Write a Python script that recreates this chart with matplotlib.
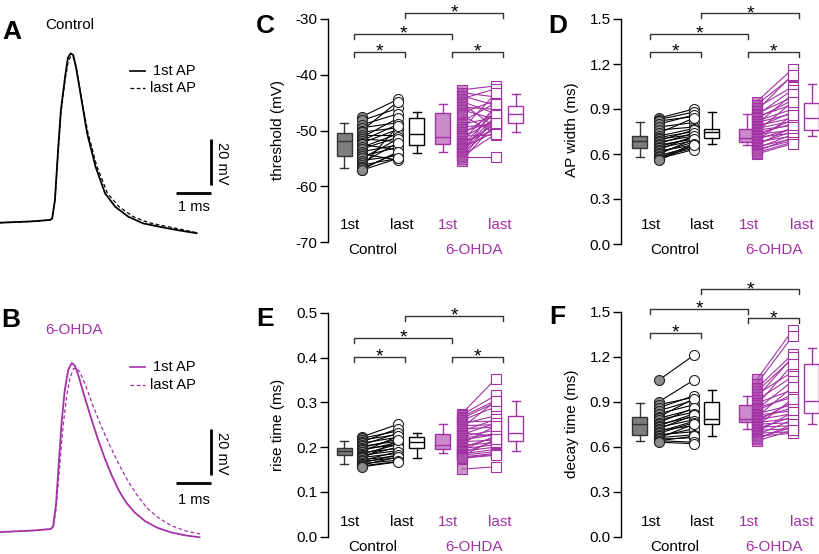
import matplotlib
matplotlib.use('Agg')
import matplotlib.pyplot as plt
from matplotlib.lines import Line2D
from matplotlib.transforms import blended_transform_factory

plt.rcParams['font.family'] = ['Liberation Sans', 'DejaVu Sans']
plt.rcParams['axes.unicode_minus'] = False

MAG = '#a332a4'
MAG_LIGHT = '#c98bc9'
GRAY_BOX = '#7d7d7d'
GRAY_PT = '#8c8c8c'

# ---- AP traces (time in ms, voltage in mV) ----
a_first_t = [0, 0.49, 0.94, 1.43, 1.49, 1.57, 1.66, 1.74, 1.86, 1.94, 2.02, 2.09, 2.17,
             2.33, 2.49, 2.73, 3.0, 3.29, 3.67, 4.09, 4.57, 5.05, 5.62]
a_first_v = [-60, -59.7, -59.4, -58.8, -58.2, -50.0, -28.1, -10.6, 3.9, 12.2, 14.1, 13.4, 8.3,
             -6.3, -20.9, -35.5, -47.1, -53.0, -57.4, -60.3, -61.8, -63.2, -64.6]
a_last_t = [0, 0.49, 0.94, 1.43, 1.49, 1.57, 1.66, 1.74, 1.86, 1.95, 2.03, 2.10, 2.18,
            2.34, 2.51, 2.76, 3.07, 3.40, 3.81, 4.25, 4.75, 5.2, 5.65]
a_last_v = [-60, -59.7, -59.4, -58.8, -58.2, -50.5, -29.0, -12.0, 2.5, 10.8, 12.9, 12.3, 7.5,
            -6.5, -20.5, -35.0, -47.1, -53.0, -57.4, -60.0, -61.6, -63.0, -64.5]

b_first_t = [0, 0.5, 1.0, 1.45, 1.52, 1.6, 1.68, 1.76, 1.85, 1.95, 2.05, 2.14, 2.25, 2.4,
             2.6, 2.8, 3.0, 3.2, 3.4, 3.6, 3.85, 4.15, 4.5, 4.9, 5.3, 5.7]
b_first_v = [-60, -59.7, -59.3, -58.7, -57.5, -48, -30, -12, 2, 11, 14, 12.8, 8, 0,
             -10, -19.5, -28, -35.5, -42, -47, -51.5, -55.3, -58.2, -60.2, -61.5, -62.3]
b_last_t = [0, 0.5, 1.0, 1.45, 1.52, 1.6, 1.7, 1.8, 1.9, 2.0, 2.1, 2.18, 2.28, 2.45,
            2.65, 2.9, 3.15, 3.4, 3.65, 3.9, 4.2, 4.5, 4.9, 5.3, 5.75]
b_last_v = [-60, -59.7, -59.3, -58.7, -57.8, -50, -32, -14, -1, 7.5, 11.5, 11.8, 10, 4,
            -4.5, -14, -22.5, -30.5, -37.5, -43.5, -49.5, -53.5, -57.3, -59.5, -61]

# ---- paired data: threshold (mV) ----
thr_ctrl_first = [-47.5, -48.2, -49.0, -49.5, -50.0, -50.3, -50.8, -51.2, -51.5, -51.8, -52.2, -52.5, -53.0,
                  -53.3, -53.8, -54.2, -54.6, -55.0, -55.4, -55.8, -56.2, -56.5, -56.8, -57.0, -57.1]
thr_ctrl_last = [-44.4, -46.0, -47.0, -48.6, -44.8, -49.5, -50.8, -47.8, -52.0, -48.9, -49.8, -53.5, -50.6,
                 -51.2, -52.6, -55.3, -53.0, -51.5, -54.5, -52.2, -55.0, -49.2, -54.0, -53.8, -55.0]
thr_ohda_first = [-42.7, -43.2, -43.8, -44.3, -44.8, -45.2, -45.8, -46.3, -46.8, -47.3, -48.4, -48.9, -49.3,
                  -49.8, -50.2, -50.6, -51.0, -51.4, -51.8, -52.2, -52.5, -52.8, -53.1, -53.4, -53.7, -54.0,
                  -54.3, -54.6, -54.8, -55.1, -55.4]
thr_ohda_last = [-42.0, -44.0, -45.5, -42.5, -47.0, -49.5, -46.2, -48.0, -44.6, -50.5, -45.0, -47.6, -49.0,
                 -43.3, -48.4, -46.8, -50.8, -47.9, -45.8, -49.8, -48.8, -46.5, -50.2, -47.4, -48.2, -49.2,
                 -45.3, -50.6, -54.8, -47.2, -48.6]
# box stats: whislo, q1, med, q3, whishi
thr_boxes = [[-56.8, -54.6, -51.8, -50.5, -48.6], [-54.1, -52.6, -50.6, -47.7, -46.6],
             [-53.8, -52.4, -51.1, -46.9, -45.2], [-50.3, -48.7, -47.1, -45.6, -43.5]]

# ---- AP width (ms) ----
wid_ctrl_first = [0.84, 0.83, 0.82, 0.80, 0.78, 0.76, 0.74, 0.72, 0.71, 0.70, 0.69, 0.68, 0.67,
                  0.66, 0.65, 0.64, 0.63, 0.62, 0.61, 0.60, 0.59, 0.58, 0.57, 0.57, 0.56]
wid_ctrl_last = [0.90, 0.88, 0.85, 0.86, 0.81, 0.78, 0.84, 0.77, 0.75, 0.73, 0.76, 0.72, 0.74,
                 0.70, 0.71, 0.69, 0.72, 0.66, 0.68, 0.70, 0.65, 0.64, 0.67, 0.63, 0.66]
wid_ohda_first = [0.95, 0.93, 0.91, 0.89, 0.87, 0.86, 0.85, 0.84, 0.82, 0.81, 0.80, 0.79, 0.78,
                  0.77, 0.76, 0.75, 0.74, 0.73, 0.72, 0.71, 0.70, 0.69, 0.68, 0.67, 0.66, 0.65,
                  0.64, 0.63, 0.62, 0.61, 0.60]
wid_ohda_last = [1.17, 1.12, 1.05, 1.13, 0.98, 1.03, 0.93, 0.96, 0.90, 0.87, 1.00, 0.84, 0.88,
                 0.82, 0.79, 0.95, 0.80, 0.76, 0.83, 0.74, 0.77, 0.86, 0.72, 0.75, 0.78, 0.70,
                 0.73, 0.69, 0.71, 0.68, 0.67]
wid_boxes = [[0.58, 0.64, 0.69, 0.72, 0.81], [0.67, 0.71, 0.75, 0.77, 0.88],
             [0.66, 0.68, 0.71, 0.77, 0.865], [0.72, 0.76, 0.84, 0.94, 1.065]]

# ---- rise time (ms) ----
rise_ctrl_first = [0.223, 0.220, 0.216, 0.212, 0.209, 0.205, 0.202, 0.199, 0.196, 0.193, 0.190, 0.188,
                   0.185, 0.182, 0.180, 0.177, 0.175, 0.172, 0.170, 0.168, 0.165, 0.163, 0.160, 0.158, 0.156]
rise_ctrl_last = [0.251, 0.236, 0.228, 0.241, 0.222, 0.231, 0.213, 0.218, 0.205, 0.210, 0.224, 0.197,
                  0.206, 0.192, 0.200, 0.186, 0.215, 0.180, 0.190, 0.176, 0.183, 0.171, 0.178, 0.168, 0.167]
rise_ohda_first = [0.275, 0.272, 0.268, 0.264, 0.260, 0.256, 0.252, 0.248, 0.244, 0.240, 0.236, 0.232,
                   0.228, 0.224, 0.220, 0.216, 0.212, 0.208, 0.204, 0.200, 0.197, 0.194, 0.191, 0.188,
                   0.185, 0.182, 0.180, 0.178, 0.176, 0.175, 0.151]
rise_ohda_last = [0.353, 0.316, 0.304, 0.300, 0.290, 0.258, 0.270, 0.250, 0.303, 0.245, 0.262, 0.224,
                  0.254, 0.238, 0.230, 0.228, 0.216, 0.248, 0.210, 0.222, 0.205, 0.225, 0.200, 0.213,
                  0.195, 0.190, 0.218, 0.186, 0.184, 0.182, 0.156]
rise_boxes = [[0.162, 0.182, 0.191, 0.197, 0.214], [0.175, 0.199, 0.211, 0.222, 0.231],
              [0.1875, 0.196, 0.205, 0.229, 0.251], [0.191, 0.214, 0.231, 0.269, 0.304]]

# ---- decay time (ms) ----
dec_ctrl_first = [1.045, 0.90, 0.88, 0.86, 0.84, 0.82, 0.80, 0.79, 0.78, 0.76, 0.75, 0.74, 0.73,
                  0.72, 0.71, 0.70, 0.69, 0.68, 0.67, 0.66, 0.66, 0.65, 0.64, 0.64, 0.63]
dec_ctrl_last = [1.21, 1.045, 0.93, 0.94, 0.91, 0.88, 0.92, 0.85, 0.83, 0.86, 0.80, 0.82, 0.78,
                 0.81, 0.74, 0.77, 0.76, 0.70, 0.72, 0.68, 0.75, 0.66, 0.67, 0.63, 0.62]
dec_ohda_first = [1.05, 1.02, 0.99, 0.97, 0.95, 0.93, 0.91, 0.89, 0.88, 0.86, 0.85, 0.84, 0.82,
                  0.81, 0.80, 0.79, 0.78, 0.77, 0.76, 0.75, 0.74, 0.73, 0.72, 0.71, 0.70, 0.69,
                  0.68, 0.67, 0.66, 0.65, 0.64]
dec_ohda_last = [1.38, 1.34, 1.22, 1.19, 1.10, 1.20, 1.07, 0.98, 1.15, 0.93, 1.04, 0.95, 0.88,
                 0.84, 1.00, 0.86, 0.82, 0.90, 0.79, 0.76, 0.92, 0.74, 0.80, 0.72, 0.83, 0.70,
                 0.78, 0.69, 0.73, 0.75, 0.71]
dec_boxes = [[0.64, 0.678, 0.749, 0.80, 0.889], [0.671, 0.749, 0.785, 0.90, 0.978],
             [0.716, 0.767, 0.785, 0.878, 0.938], [0.751, 0.827, 0.907, 1.151, 1.256]]

group_labels = ['1st', 'last', '1st', 'last']
group_names = ['Control', '6-OHDA']

W, H = 820, 554
fig = plt.figure(figsize=(W / 100, H / 100), dpi=100)


def fx(x):
    return x / W


def fy(y):
    return 1 - y / H


def ftext(x, y, s, **kw):
    fig.text(fx(x), fy(y), s, **kw)


def fline(xs, ys, **kw):
    fig.add_artist(Line2D([fx(v) for v in xs], [fy(v) for v in ys],
                          transform=fig.transFigure, **kw))


# ---- panels A and B: traces ----
def trace_panel(rect_px, base_px, t1, v1, t2, v2, color, vbar, hbar_v):
    x0, y0, x1, y1 = rect_px
    ax = fig.add_axes([fx(x0), fy(y1), (x1 - x0) / W, (y1 - y0) / H])
    ax.set_xlim(0, (x1 - x0) / 35.0)
    ax.set_ylim(-60 + (base_px - y1) / 2.285, -60 + (base_px - y0) / 2.285)
    ax.axis('off')
    ax.plot(t2, v2, color=color, lw=0.9, ls=(0, (3, 2)))
    ax.plot(t1, v1, color=color, lw=1.3)
    ax.plot([6.02, 6.02], [vbar, vbar + 20], color='black', lw=2, solid_capstyle='butt')
    ax.plot([5.03, 6.03], [hbar_v, hbar_v], color='black', lw=2, solid_capstyle='butt')
    return ax


trace_panel((0, 0, 230, 250), 222.7, a_first_t, a_first_v, a_last_t, a_last_v, 'black', -43.5, -47.1)
trace_panel((0, 280, 230, 554), 532.0, b_first_t, b_first_v, b_last_t, b_last_v, MAG, -35.0, -38.7)

ftext(11.7, 31.7, 'A', fontsize=19, fontweight='bold', ha='center', va='center')
ftext(11, 320, 'B', fontsize=19, fontweight='bold', ha='center', va='center')
ftext(70, 25, 'Control', fontsize=11, ha='center', va='center')
ftext(74, 330, '6-OHDA', fontsize=11, ha='center', va='center', color=MAG)

for (ly, dy, col) in [(71, 88, 'black'), (366.7, 385, MAG)]:
    fline([130, 145], [ly, ly], color=col, lw=1.2)
    fline([130, 145], [dy, dy], color=col, lw=0.9, ls=(0, (3, 2)))
    ftext(153, ly, '1st AP', fontsize=10.5, va='center')
    ftext(150.5, dy, 'last AP', fontsize=10.5, va='center')

ftext(222, 163, '20 mV', fontsize=10.5, rotation=270, ha='center', va='center')
ftext(193.5, 206.7, '1 ms', fontsize=10.5, ha='center', va='center')
ftext(222, 453, '20 mV', fontsize=10.5, rotation=270, ha='center', va='center')
ftext(193.5, 500, '1 ms', fontsize=10.5, ha='center', va='center')


# ---- box / paired panels ----
def box(ax, st, pos, face, edge):
    stats = [dict(whislo=st[0], q1=st[1], med=st[2], q3=st[3], whishi=st[4], fliers=[])]
    ax.bxp(stats, positions=[pos], widths=15, capwidths=8, patch_artist=True,
           showfliers=False, manage_ticks=False,
           boxprops=dict(facecolor=face, edgecolor=edge, linewidth=1),
           whiskerprops=dict(color=edge, linewidth=1),
           capprops=dict(color=edge, linewidth=1),
           medianprops=dict(color=edge, linewidth=1))


def paired_panel(rect_px, xlim, pos, brk_x, brk_y, lab_x, lab_y, name_x, name_y,
                 ylim, yticks, fmt, ylabel, ylabel_px, letter, letter_px,
                 c1, c2, o1, o2, boxes):
    x0, y0, x1, y1 = rect_px
    ax = fig.add_axes([fx(x0), fy(y1), (x1 - x0) / W, (y1 - y0) / H])
    ax.set_xlim(*xlim)
    ax.set_ylim(*ylim)
    for s in ['top', 'right', 'bottom']:
        ax.spines[s].set_visible(False)
    ax.spines['left'].set_linewidth(1)
    ax.set_xticks([])
    ax.set_yticks(yticks)
    ax.set_yticklabels([fmt.format(v) for v in yticks])
    ax.tick_params(axis='y', length=5.5, width=1, labelsize=11, pad=2)
    ax.patch.set_alpha(0)

    box(ax, boxes[0], pos[0], GRAY_BOX, '#333333')
    box(ax, boxes[1], pos[3], 'white', 'black')
    box(ax, boxes[2], pos[4], MAG_LIGHT, MAG)
    box(ax, boxes[3], pos[7], 'white', MAG)

    for a, b in zip(c1, c2):
        ax.plot([pos[1], pos[2]], [a, b], color='black', lw=0.8, zorder=3)
    ax.plot([pos[1]] * len(c1), c1, 'o', ms=7.2, mfc=GRAY_PT, mec='#222222', mew=0.8, zorder=4, clip_on=False)
    ax.plot([pos[2]] * len(c2), c2, 'o', ms=7.2, mfc='white', mec='#222222', mew=0.8, zorder=4, clip_on=False)
    for a, b in zip(o1, o2):
        ax.plot([pos[5], pos[6]], [a, b], color=MAG, lw=0.8, zorder=3)
    ax.plot([pos[5]] * len(o1), o1, 's', ms=6.5, mfc=(0.68, 0.32, 0.68, 0.6), mec=MAG, mew=0.8, zorder=4)
    ax.plot([pos[6]] * len(o2), o2, 's', ms=6.5, mfc='white', mec=MAG, mew=0.8, zorder=4)

    tr = blended_transform_factory(ax.transData, ax.transAxes)
    tick = 5.0 / (y1 - y0)
    for (i, j), yb in zip([(1, 3), (0, 2), (0, 1), (2, 3)], brk_y):
        xa, xb = brk_x[i], brk_x[j]
        ax.plot([xa, xa, xb, xb], [yb - tick, yb, yb, yb - tick], color='#333333', lw=1,
                transform=tr, clip_on=False)
        ax.annotate('*', xy=((xa + xb) / 2, yb), xycoords=tr, xytext=(0, -3.5),
                    textcoords='offset points', ha='center', va='baseline', fontsize=14)

    for k, (lx, s) in enumerate(zip(lab_x, group_labels)):
        ax.text(lx, lab_y, s, transform=tr, ha='center', va='center', fontsize=11,
                color='black' if k < 2 else MAG)
    for k, (nx, s) in enumerate(zip(name_x, group_names)):
        ax.text(nx, name_y, s, transform=tr, ha='center', va='center', fontsize=11,
                color='black' if k == 0 else MAG, clip_on=False)

    ftext(ylabel_px[0], ylabel_px[1], ylabel, rotation=90, ha='center', va='center', fontsize=11)
    ftext(letter_px[0], letter_px[1], letter, fontsize=19, fontweight='bold', ha='center', va='center')
    return ax


pos_ce = [0, 18, 54, 73, 99, 118, 152, 172]
pos_df = [0, 19, 54, 72, 107, 117, 153, 172]
brk_x = [10, 61, 108, 159]
lab_ce = [6, 58, 104, 156]
lab_df = [11, 62, 109, 162]

paired_panel((328, 19, 530, 242), (-16, 186), pos_ce, brk_x, [1.028, 0.933, 0.853, 0.853],
             lab_ce, 0.076, [29, 130], -0.036,
             (-70, -30), [-70, -60, -50, -40, -30], '{:.0f}', 'threshold (mV)', (278, 130),
             'C', (265, 26), thr_ctrl_first, thr_ctrl_last, thr_ohda_first, thr_ohda_last, thr_boxes)

paired_panel((621, 19, 820, 244), (-19, 180), pos_df, brk_x, [1.025, 0.933, 0.855, 0.855],
             lab_df, 0.084, [35, 134], -0.027,
             (0, 1.5), [0, 0.3, 0.6, 0.9, 1.2, 1.5], '{:.1f}', 'AP width (ms)', (572, 130),
             'D', (558, 26), wid_ctrl_first, wid_ctrl_last, wid_ohda_first, wid_ohda_last, wid_boxes)

paired_panel((328, 312.7, 530, 536.7), (-16, 186), pos_ce, brk_x, [0.985, 0.888, 0.804, 0.804],
             lab_ce, 0.066, [29, 130], -0.045,
             (0, 0.5), [0, 0.1, 0.2, 0.3, 0.4, 0.5], '{:.1f}', 'rise time (ms)', (278, 425),
             'E', (265, 319.5), rise_ctrl_first, rise_ctrl_last, rise_ohda_first, rise_ohda_last, rise_boxes)

paired_panel((621, 311.7, 820, 536.7), (-19, 180), pos_df, brk_x, [1.10, 1.012, 0.907, 0.971],
             lab_df, 0.067, [35, 134], -0.044,
             (0, 1.5), [0, 0.3, 0.6, 0.9, 1.2, 1.5], '{:.1f}', 'decay time (ms)', (572, 424),
             'F', (557, 317.5), dec_ctrl_first, dec_ctrl_last, dec_ohda_first, dec_ohda_last, dec_boxes)

fig.savefig('out.png', dpi=100)
